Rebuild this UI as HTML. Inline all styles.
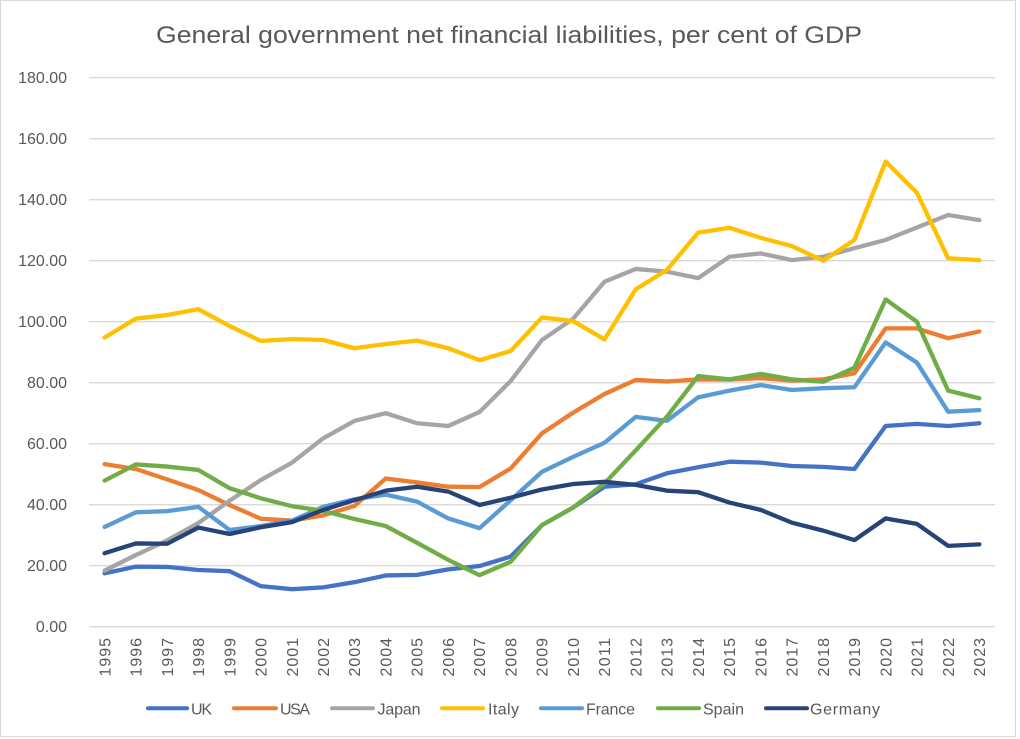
<!DOCTYPE html>
<html>
<head>
<meta charset="utf-8">
<style>
html,body{margin:0;padding:0;background:#fff;}
svg{display:block;}
text{font-family:"Liberation Sans",sans-serif;fill:#595959;}
</style>
</head>
<body>
<svg width="1020" height="739" viewBox="0 0 1020 739" xmlns="http://www.w3.org/2000/svg">
<rect x="0" y="0" width="1020" height="739" fill="#fff"/>
<rect x="0.5" y="0.5" width="1015" height="736" fill="none" stroke="#d9d9d9" stroke-width="1.2"/>

<text x="156" y="43" font-size="24" textLength="706" lengthAdjust="spacingAndGlyphs">General government net financial liabilities, per cent of GDP</text>

<g stroke="#d9d9d9" stroke-width="1.3">
<line x1="89" x2="995" y1="626.7" y2="626.7"/>
<line x1="89" x2="995" y1="565.7" y2="565.7"/>
<line x1="89" x2="995" y1="504.7" y2="504.7"/>
<line x1="89" x2="995" y1="443.7" y2="443.7"/>
<line x1="89" x2="995" y1="382.7" y2="382.7"/>
<line x1="89" x2="995" y1="321.7" y2="321.7"/>
<line x1="89" x2="995" y1="260.7" y2="260.7"/>
<line x1="89" x2="995" y1="199.7" y2="199.7"/>
<line x1="89" x2="995" y1="138.7" y2="138.7"/>
<line x1="89" x2="995" y1="77.7" y2="77.7"/>
</g>

<g font-size="16" text-anchor="end">
<text x="67" y="632.2">0.00</text>
<text x="67" y="571.2">20.00</text>
<text x="67" y="510.2">40.00</text>
<text x="67" y="449.2">60.00</text>
<text x="67" y="388.2">80.00</text>
<text x="67" y="327.2">100.00</text>
<text x="67" y="266.2">120.00</text>
<text x="67" y="205.2">140.00</text>
<text x="67" y="144.2">160.00</text>
<text x="67" y="83.2">180.00</text>
</g>

<g font-size="16" text-anchor="end">
<text transform="translate(110.3,638) rotate(-90)" textLength="38.5">1995</text>
<text transform="translate(141.6,638) rotate(-90)" textLength="38.5">1996</text>
<text transform="translate(172.8,638) rotate(-90)" textLength="38.5">1997</text>
<text transform="translate(204.0,638) rotate(-90)" textLength="38.5">1998</text>
<text transform="translate(235.3,638) rotate(-90)" textLength="38.5">1999</text>
<text transform="translate(266.5,638) rotate(-90)" textLength="38.5">2000</text>
<text transform="translate(297.8,638) rotate(-90)" textLength="38.5">2001</text>
<text transform="translate(329.0,638) rotate(-90)" textLength="38.5">2002</text>
<text transform="translate(360.2,638) rotate(-90)" textLength="38.5">2003</text>
<text transform="translate(391.5,638) rotate(-90)" textLength="38.5">2004</text>
<text transform="translate(422.7,638) rotate(-90)" textLength="38.5">2005</text>
<text transform="translate(454.0,638) rotate(-90)" textLength="38.5">2006</text>
<text transform="translate(485.2,638) rotate(-90)" textLength="38.5">2007</text>
<text transform="translate(516.4,638) rotate(-90)" textLength="38.5">2008</text>
<text transform="translate(547.7,638) rotate(-90)" textLength="38.5">2009</text>
<text transform="translate(578.9,638) rotate(-90)" textLength="38.5">2010</text>
<text transform="translate(610.2,638) rotate(-90)" textLength="38.5">2011</text>
<text transform="translate(641.4,638) rotate(-90)" textLength="38.5">2012</text>
<text transform="translate(672.7,638) rotate(-90)" textLength="38.5">2013</text>
<text transform="translate(703.9,638) rotate(-90)" textLength="38.5">2014</text>
<text transform="translate(735.1,638) rotate(-90)" textLength="38.5">2015</text>
<text transform="translate(766.4,638) rotate(-90)" textLength="38.5">2016</text>
<text transform="translate(797.6,638) rotate(-90)" textLength="38.5">2017</text>
<text transform="translate(828.9,638) rotate(-90)" textLength="38.5">2018</text>
<text transform="translate(860.1,638) rotate(-90)" textLength="38.5">2019</text>
<text transform="translate(891.3,638) rotate(-90)" textLength="38.5">2020</text>
<text transform="translate(922.6,638) rotate(-90)" textLength="38.5">2021</text>
<text transform="translate(953.8,638) rotate(-90)" textLength="38.5">2022</text>
<text transform="translate(985.1,638) rotate(-90)" textLength="38.5">2023</text>
</g>

<g fill="none" stroke-width="4.3" stroke-linejoin="round" stroke-linecap="round" transform="translate(104.62,626.7) scale(31.241,-3.05)">
<polyline vector-effect="non-scaling-stroke" stroke="#4472C4" points="0,17.5 1,19.7 2,19.6 3,18.6 4,18.2 5,13.3 6,12.3 7,12.9 8,14.6 9,16.8 10,17.0 11,18.8 12,19.9 13,23.0 14,33.3 15,39.1 16,45.9 17,46.7 18,50.3 19,52.3 20,54.1 21,53.8 22,52.7 23,52.4 24,51.7 25,65.8 26,66.5 27,65.8 28,66.7"/>
<polyline vector-effect="non-scaling-stroke" stroke="#ED7D31" points="0,53.3 1,51.7 2,48.3 3,44.8 4,39.9 5,35.4 6,34.8 7,36.5 8,39.6 9,48.6 10,47.3 11,45.9 12,45.8 13,51.9 14,63.4 15,70.2 16,76.3 17,80.9 18,80.4 19,81.1 20,81.0 21,81.5 22,80.7 23,81.1 24,83.1 25,97.8 26,97.8 27,94.6 28,96.8"/>
<polyline vector-effect="non-scaling-stroke" stroke="#A5A5A5" points="0,18.4 1,23.5 2,28.3 3,34.0 4,41.3 5,48.1 6,53.8 7,61.8 8,67.5 9,70.0 10,66.7 11,65.8 12,70.4 13,80.6 14,94.0 15,101.0 16,113.1 17,117.3 18,116.4 19,114.3 20,121.3 21,122.4 22,120.2 23,121.3 24,124.1 25,126.8 26,130.9 27,135.0 28,133.3"/>
<polyline vector-effect="non-scaling-stroke" stroke="#FFC000" points="0,94.8 1,101.0 2,102.2 3,104.1 4,98.6 5,93.7 6,94.3 7,94.0 8,91.3 9,92.7 10,93.8 11,91.3 12,87.4 13,90.4 14,101.4 15,100.2 16,94.2 17,110.6 18,117.0 19,129.2 20,130.8 21,127.5 22,124.8 23,120.0 24,126.8 25,152.5 26,142.3 27,120.8 28,120.2"/>
<polyline vector-effect="non-scaling-stroke" stroke="#5B9BD5" points="0,32.7 1,37.5 2,37.9 3,39.3 4,31.7 5,33.0 6,34.8 7,39.3 8,41.8 9,43.3 10,41.0 11,35.5 12,32.3 13,41.5 14,50.8 15,55.7 16,60.3 17,68.8 18,67.5 19,75.2 20,77.4 21,79.2 22,77.6 23,78.2 24,78.5 25,93.2 26,86.6 27,70.5 28,71.0"/>
<polyline vector-effect="non-scaling-stroke" stroke="#70AD47" points="0,47.9 1,53.2 2,52.5 3,51.4 4,45.4 5,42.1 6,39.5 7,38.0 8,35.3 9,33.0 10,27.5 11,21.9 12,16.9 13,21.3 14,33.3 15,39.1 16,47.0 17,57.8 18,68.9 19,82.2 20,81.1 21,82.9 22,81.1 23,80.3 24,84.9 25,107.3 26,100.0 27,77.4 28,74.9"/>
<polyline vector-effect="non-scaling-stroke" stroke="#264478" points="0,24.1 1,27.3 2,27.2 3,32.5 4,30.4 5,32.6 6,34.3 7,38.3 8,41.5 9,44.6 10,45.9 11,44.3 12,39.9 13,42.3 14,45.0 15,46.8 16,47.5 17,46.5 18,44.6 19,44.1 20,40.7 21,38.3 22,34.1 23,31.5 24,28.4 25,35.5 26,33.7 27,26.5 28,27.0"/>
</g>

<g stroke-width="4" stroke-linecap="round">
<line x1="148" x2="187" y1="708.3" y2="708.3" stroke="#4472C4"/>
<line x1="234" x2="276" y1="708.3" y2="708.3" stroke="#ED7D31"/>
<line x1="332" x2="373" y1="708.3" y2="708.3" stroke="#A5A5A5"/>
<line x1="442" x2="483" y1="708.3" y2="708.3" stroke="#FFC000"/>
<line x1="541" x2="582" y1="708.3" y2="708.3" stroke="#5B9BD5"/>
<line x1="658" x2="699" y1="708.3" y2="708.3" stroke="#70AD47"/>
<line x1="766" x2="807" y1="708.3" y2="708.3" stroke="#264478"/>
</g>
<g font-size="16">
<text x="191" y="714.5" textLength="21">UK</text>
<text x="280" y="714.5" textLength="30">USA</text>
<text x="377.5" y="714.5" textLength="43">Japan</text>
<text x="488" y="714.5" textLength="31">Italy</text>
<text x="586" y="714.5" textLength="49">France</text>
<text x="703" y="714.5" textLength="41">Spain</text>
<text x="810" y="714.5" textLength="70">Germany</text>
</g>
</svg>
</body>
</html>
